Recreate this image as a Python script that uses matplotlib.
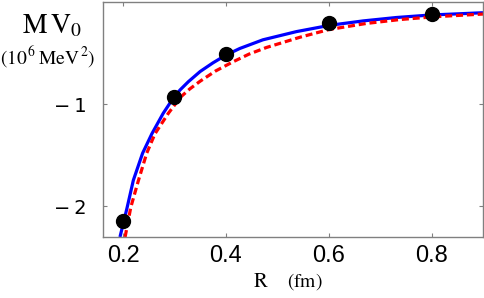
import numpy as np
import matplotlib.pyplot as plt

plt.rcParams['mathtext.fontset'] = 'stix'

# values
r_points = [0.2, 0.3, 0.4, 0.6, 0.8]
v_points = [-2.14, -0.93, -0.51, -0.21, -0.12]

r_blue = [0.194, 0.208, 0.220, 0.238, 0.256, 0.278, 0.299, 0.311, 0.327, 0.350,
          0.375, 0.400, 0.427, 0.472, 0.537, 0.602, 0.667, 0.731, 0.796, 0.900]
v_blue = [-2.30, -2.01, -1.745, -1.48, -1.29, -1.09, -0.93, -0.86, -0.78, -0.68,
          -0.595, -0.52, -0.455, -0.37, -0.29, -0.228, -0.185, -0.152, -0.128, -0.105]

r_red = [0.204, 0.215, 0.230, 0.246, 0.262, 0.288, 0.312, 0.330, 0.350, 0.380,
         0.414, 0.445, 0.479, 0.544, 0.600, 0.673, 0.738, 0.803, 0.900]
v_red = [-2.30, -2.01, -1.745, -1.48, -1.29, -1.09, -0.93, -0.85, -0.775, -0.675,
         -0.585, -0.51, -0.445, -0.345, -0.27, -0.21, -0.172, -0.145, -0.118]

x_ticks = [0.2, 0.4, 0.6, 0.8]
x_labels = ['0.2', '0.4', '0.6', '0.8']
y_ticks = [-2, -1]
y_labels = ['\u2212\u20092', '\u2212\u20091']

fig = plt.figure(figsize=(4.84, 2.98), dpi=100)
ax = fig.add_axes([103 / 484, 1 - 237 / 298, 380 / 484, 235 / 298])

ax.plot(r_blue, v_blue, color='#0000ff', linewidth=2.3, solid_capstyle='butt')
ax.plot(r_red, v_red, color='#ff0000', linewidth=2.3, linestyle=(0, (2.2, 1.2)))
ax.plot(r_points, v_points, 'o', color='black', markersize=10)

ax.set_xlim(0.161, 0.9)
ax.set_ylim(-2.3, 0.0)

ax.set_xticks(x_ticks)
ax.set_xticklabels(x_labels, fontsize=17, family='Liberation Sans')
ax.set_yticks(y_ticks)
ax.set_yticklabels(y_labels, fontsize=14, family='DejaVu Sans')
ax.tick_params(direction='in', length=3, width=0.8, color='#808080',
               top=True, right=True, pad=6)
ax.tick_params(axis='y', pad=12)

for side in ['top', 'bottom', 'left', 'right']:
    ax.spines[side].set_color('#808080')
    ax.spines[side].set_linewidth(1.0)

# axis labels, placed like the original
fig.text(22 / 484, 1 - 33 / 298, r'$\mathrm{M\,V}_0$', fontsize=20, ha='left', va='baseline')
fig.text(0 / 484, 1 - 64 / 298, r'$(10^{\,6}\,\mathrm{MeV}^{\,2})$', fontsize=14,
         ha='left', va='baseline')
fig.text(253 / 484, 1 - 287 / 298, r'$\mathrm{R}$', fontsize=15, ha='left', va='baseline')
fig.text(287 / 484, 1 - 287 / 298, r'$\mathrm{(fm)}$', fontsize=14, ha='left', va='baseline')

fig.savefig('out.png', dpi=100)
